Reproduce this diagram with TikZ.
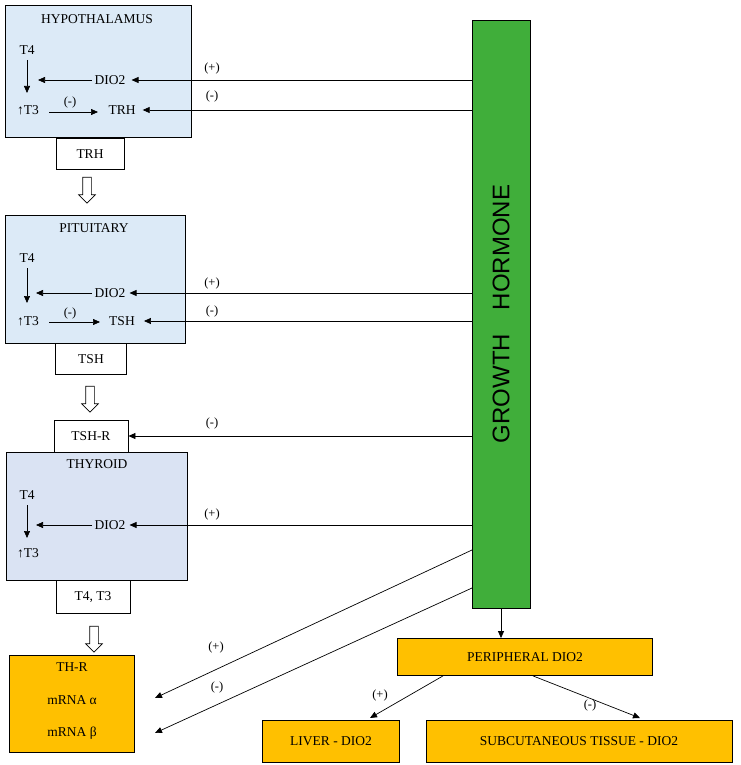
\documentclass[tikz,border=0pt]{standalone}
\usepackage{fontspec}
\setmainfont{Liberation Serif}
\newfontfamily\ghfont{Liberation Sans}
\usetikzlibrary{arrows.meta,shapes.arrows}
\definecolor{hypo}{HTML}{DCEAF7}
\definecolor{thy}{HTML}{DAE3F3}
\definecolor{ghg}{HTML}{40AE3A}
\definecolor{org}{HTML}{FFC000}
\begin{document}
\begin{tikzpicture}[x=1pt,y=-1pt,
  txt/.style={inner sep=0pt,font=\fontsize{13.5}{15}\selectfont},
  lbl/.style={inner sep=0pt,font=\fontsize{12.5}{14}\selectfont},
  box/.style={draw,line width=0.8pt},
  arr/.style={-{Triangle[length=7pt,width=6pt]},line width=0.7pt},
  hol/.style={draw,single arrow,single arrow head extend=4pt,minimum height=26pt,minimum width=16pt,inner sep=4pt,shape border rotate=270,line width=0.7pt}]
\useasboundingbox (0,0) rectangle (740,765);
% GH bar
\node[box,fill=ghg,minimum width=58pt,minimum height=588pt,inner sep=0pt] (gh) at (501,314) {};
\node[rotate=90,font=\ghfont\fontsize{24}{26}\selectfont] (ght) at (501,314) {GROWTH\quad HORMONE};
% Hypothalamus
\node[box,fill=hypo,minimum width=186pt,minimum height=132pt,inner sep=0pt] (hyp) at (98,71) {};
\node[txt] (hypt) at (97,19) {HYPOTHALAMUS};
\node[txt] (ht4) at (27,50) {T4};
\node[txt] (hdio) at (110,80) {DIO2};
\node[txt] (ht3) at (28,110) {↑T3};
\node[txt] (htrh) at (122,110) {TRH};
\coordinate (hs) at (27,60); \coordinate (he) at (27,93);
\draw[arr] (hs) -- (he);
\draw[arr] (92,80) coordinate (hd1) -- (38,80) coordinate (hd2);
\draw[arr] (49,112) coordinate (hx1) -- (98,112) coordinate (hx2);
\node[lbl] (hm) at (70,102) {(-)};
\node[box,fill=white,minimum width=68pt,minimum height=31pt] (trhb) at (90,154) {};
\node[txt] at (trhb) {TRH};
\node[hol] (a1) at (87,188) {};
\draw[arr] (gh.west |- hdio) -- ([xshift=6pt]hdio.east);
\node[lbl] (p1) at (212,68) {(+)};
\draw[arr] (gh.west |- htrh) -- ([xshift=7pt]htrh.east);
\node[lbl] (m1) at (212,96) {(-)};
% Pituitary
\node[box,fill=hypo,minimum width=180pt,minimum height=128pt,inner sep=0pt] (pit) at (95,279) {};
\node[txt] (pitt) at (94,228) {PITUITARY};
\node[txt] (pt4) at (27,258) {T4};
\node[txt] (pdio) at (110,293) {DIO2};
\node[txt] (pt3) at (28,321) {↑T3};
\node[txt] (ptsh) at (122,321) {TSH};
\draw[arr] (27,268) coordinate (ps) -- (27,303) coordinate (pe);
\draw[arr] (92,293) coordinate (pd1) -- (36,293) coordinate (pd2);
\draw[arr] (49,322) coordinate (px1) -- (100,322) coordinate (px2);
\node[lbl] (pm) at (70,313) {(-)};
\node[box,fill=white,minimum width=71pt,minimum height=31pt] (tshb) at (91,359) {};
\node[txt] at (tshb) {TSH};
\node[hol] (a2) at (90,397) {};
\draw[arr] (gh.west |- pdio) -- ([xshift=4pt]pdio.east);
\node[lbl] (p2) at (212,283) {(+)};
\draw[arr] (gh.west |- ptsh) -- ([xshift=9pt]ptsh.east);
\node[lbl] (m2) at (212,311) {(-)};
% TSH-R
\node[box,fill=white,minimum width=74pt,minimum height=32pt] (tshr) at (91,436) {};
\node[txt] at (tshr) {TSH-R};
\draw[arr] (gh.west |- tshr) -- (tshr.east);
\node[lbl] (m3) at (212,423) {(-)};
% Thyroid
\node[box,fill=thy,minimum width=181pt,minimum height=128pt,inner sep=0pt] (thyb) at (97,516) {};
\node[txt] (thyt) at (97,464) {THYROID};
\node[txt] (tt4) at (27,495) {T4};
\node[txt] (tdio) at (110,525) {DIO2};
\node[txt] (tt3) at (28,553) {↑T3};
\draw[arr] (27,505) coordinate (ts) -- (27,538) coordinate (te);
\draw[arr] (92,525) coordinate (td1) -- (36,525) coordinate (td2);
\draw[arr] (gh.west |- tdio) -- ([xshift=4pt]tdio.east);
\node[lbl] (p3) at (212,514) {(+)};
\node[box,fill=white,minimum width=74pt,minimum height=33pt] (t43) at (93,597) {};
\node[txt] at (t43) {T4, T3};
\node[hol] (a3) at (94,637) {};
% TH-R
\node[box,fill=org,minimum width=125pt,minimum height=97pt] (thr) at (72,704) {};
\node[txt] (thrt) at (72,667) {TH-R};
\node[txt] (mra) at (72,700) {mRNA α};
\node[txt] (mrb) at (72,733) {mRNA β};
\coordinate (g1) at (472,550); \coordinate (g2) at (472,588);
\draw[arr] (g1) -- (155,698) coordinate (ea);
\draw[arr] (g2) -- (155,733) coordinate (eb);
\node[lbl] (p4) at (216,647) {(+)};
\node[lbl] (m4) at (217,687) {(-)};
% Peripheral
\node[box,fill=org,minimum width=255pt,minimum height=37pt] (per) at (525,657) {};
\node[txt] at (per) {PERIPHERAL DIO2};
\draw[arr] (gh.south) -- (per.north -| gh.south);
\node[box,fill=org,minimum width=137pt,minimum height=42pt] (liv) at (331,741) {};
\node[txt] at (liv) {LIVER - DIO2};
\node[box,fill=org,minimum width=306pt,minimum height=42pt] (sub) at (579,741) {};
\node[txt] at (sub) {SUBCUTANEOUS TISSUE - DIO2};
\draw[arr] (per.south -| 443,0) -- (370,718) coordinate (lv);
\draw[arr] (per.south -| 533,0) -- (640,718) coordinate (sv);
\node[lbl] (p5) at (380,695) {(+)};
\node[lbl] (m5) at (590,705) {(-)};
\end{tikzpicture}
\end{document}
